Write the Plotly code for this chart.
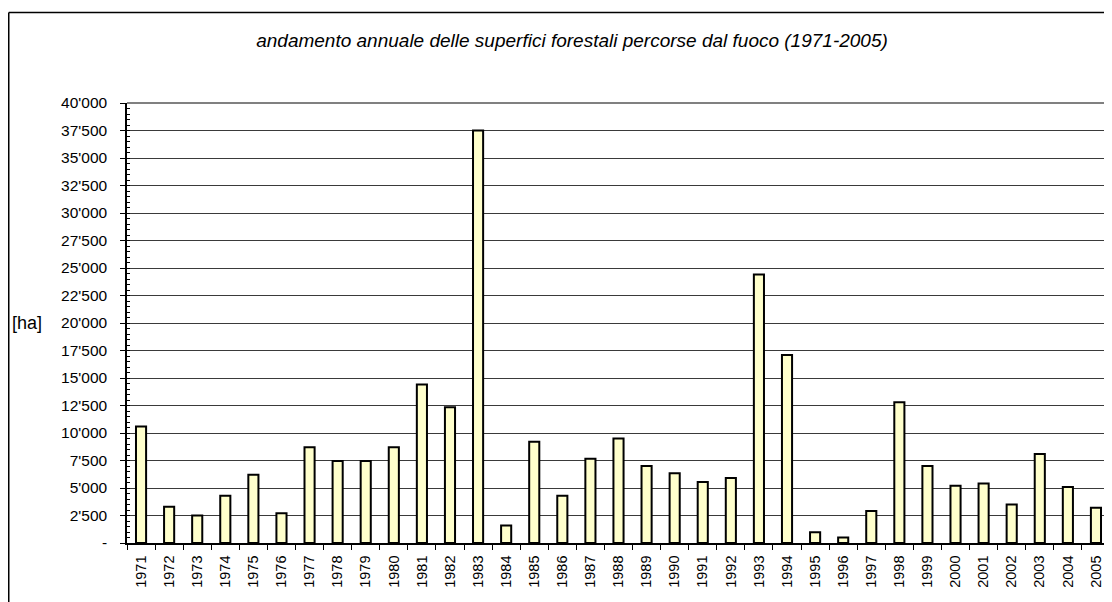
import plotly.graph_objects as go

years = [str(y) for y in range(1971, 2006)]
area_ha = [10600, 3300, 2500, 4300, 6200, 2700, 8700, 7450, 7450, 8700,
           14400, 12350, 37500, 1600, 9200, 4300, 7650, 9500, 7000, 6350,
           5550, 5900, 24400, 17100, 970, 500, 2900, 12800, 7000, 5200,
           5400, 3500, 8100, 5100, 3200]
y_tickvals = [0, 2500, 5000, 7500, 10000, 12500, 15000, 17500, 20000,
              22500, 25000, 27500, 30000, 32500, 35000, 37500, 40000]
y_ticktext = ["-", "2'500", "5'000", "7'500", "10'000", "12'500", "15'000",
              "17'500", "20'000", "22'500", "25'000", "27'500", "30'000",
              "32'500", "35'000", "37'500", "40'000"]
title_text = "andamento annuale delle superfici forestali percorse dal fuoco (1971-2005)"
unit_text = "[ha]"

# the page body has an 8px margin, so figure coords = page coords - 8
OFF = 8
W, H = 1104, 594
L, R, T, B = 127 - OFF, 2, 103 - OFF, 59
pw, ph = W - L - R, H - T - B

def px_x(x):
    return (x - OFF - L) / pw

def px_y(y):
    return (H - B - (y - OFF)) / ph

font = "Liberation Sans, Arial, sans-serif"

fig = go.Figure(go.Bar(
    x=years, y=area_ha,
    marker=dict(color="#FFFFCC", line=dict(color="black", width=2)),
    hoverinfo="x+y",
))

fig.update_layout(
    width=W, height=H,
    margin=dict(l=L, r=R, t=T, b=B),
    paper_bgcolor="white", plot_bgcolor="white",
    bargap=0.64,
    showlegend=False,
    font=dict(family=font, size=15, color="black"),
    title=dict(text=title_text, x=px_x(572), xref="paper", xanchor="center",
               y=1 - (40 - OFF) / H, yref="container", yanchor="middle",
               font=dict(family=font, size=19, color="black", style="italic")),
    xaxis=dict(
        type="category",
        tickangle=-90,
        ticks="outside", ticklen=5, tickcolor="black", tickwidth=1,
        tickson="boundaries",
        ticklabelstandoff=5,
        showline=True, linecolor="black", linewidth=1.5,
        showgrid=False,
        tickfont=dict(family=font, size=14.5, color="black"),
    ),
    yaxis=dict(
        range=[0, 40000],
        tickvals=y_tickvals, ticktext=y_ticktext,
        ticks="outside", ticklen=5, tickcolor="black", tickwidth=1,
        ticklabelstandoff=10,
        showline=True, linecolor="black", linewidth=1.5,
        showgrid=True, gridcolor="#3a3a3a", gridwidth=1,
        zeroline=False,
        minor=dict(dtick=500, ticks="inside", ticklen=3, tickcolor="black",
                   showgrid=False),
        tickfont=dict(family=font, size=15.5, color="black"),
    ),
    annotations=[dict(text=unit_text, x=px_x(27), y=px_y(323), xref="paper", yref="paper",
                      showarrow=False, xanchor="center", yanchor="middle",
                      font=dict(family=font, size=18, color="black"))],
    shapes=[
        # plot area border (top, right) in gray
        dict(type="line", xref="paper", yref="paper", x0=0, x1=1, y0=1, y1=1,
             line=dict(color="#808080", width=2), layer="above"),
        dict(type="line", xref="paper", yref="paper", x0=1, x1=1, y0=0, y1=1,
             line=dict(color="#808080", width=2), layer="above"),
        # outer chart frame
        dict(type="line", xref="paper", yref="paper", x0=px_x(8.75), x1=px_x(8.75),
             y0=px_y(H + OFF + 10), y1=px_y(12.5), line=dict(color="black", width=1.5)),
        dict(type="line", xref="paper", yref="paper", x0=px_x(8.75), x1=px_x(W + OFF + 10),
             y0=px_y(12.5), y1=px_y(12.5), line=dict(color="black", width=1.5)),
    ],
)

fig.write_html("out.html")
